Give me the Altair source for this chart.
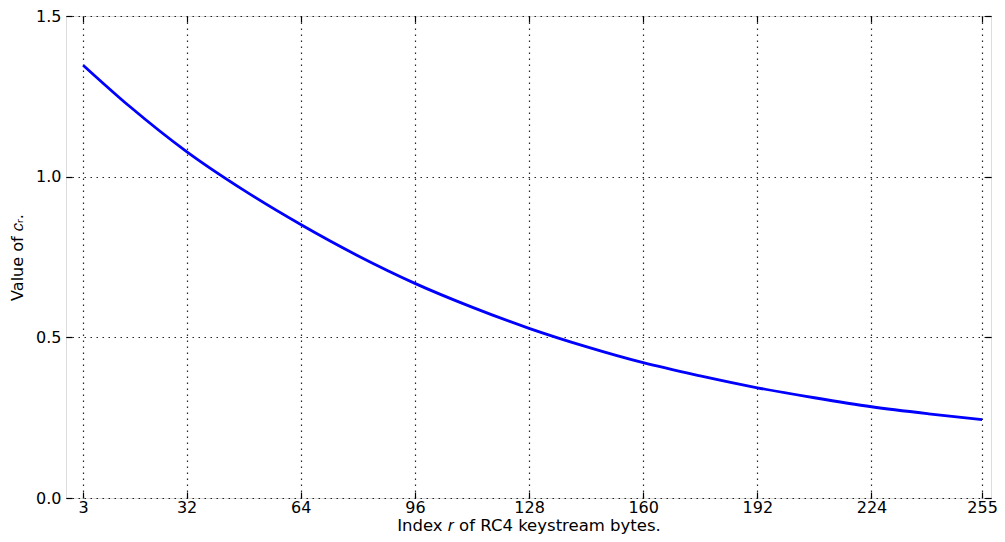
import altair as alt
import pandas as pd

r_vals = [3, 16, 32, 48, 64, 80, 96, 112, 128, 144, 160, 176, 192, 208, 224, 240, 255]
c_vals = [1.347, 1.219, 1.078, 0.958, 0.851, 0.754, 0.668, 0.594, 0.528, 0.471,
          0.421, 0.380, 0.343, 0.312, 0.284, 0.262, 0.244]
x_ticks = [3, 32, 64, 96, 128, 160, 192, 224, 255]
y_ticks = [0.0, 0.5, 1.0, 1.5]

df = pd.DataFrame({"r": r_vals, "c": c_vals})

FONT = "DejaVu Sans"
xs = alt.Scale(domain=[-1.8, 257.5], nice=False, zero=False)
ys = alt.Scale(domain=[0, 1.5], nice=False)

base = alt.Chart(df)

main = base.mark_line(color="#0000ff", strokeWidth=2.8, interpolate="monotone").encode(
    x=alt.X("r:Q", scale=xs, title="Index 𝑟 of RC4 keystream bytes.",
            axis=alt.Axis(values=x_ticks, orient="bottom", domain=False, ticks=False,
                          labelPadding=1, grid=True, gridColor="#000000", gridDash=[1.5, 4.5],
                          gridWidth=1.2, gridOpacity=0.85, labelFontSize=16, labelFont=FONT,
                          labelColor="#000000", titleFont=FONT, titleFontSize=16.5,
                          titleFontWeight="normal", titleColor="#000000", titlePadding=2,
                          labelFlush=False)),
    y=alt.Y("c:Q", scale=ys, title="Value of 𝑐ᵣ.",
            axis=alt.Axis(values=y_ticks, orient="left", domain=False, ticks=False,
                          format=".1f", labelPadding=5, grid=True, gridColor="#000000",
                          gridDash=[1.5, 4.5], gridWidth=1.2, gridOpacity=0.85,
                          labelFontSize=16, labelFont=FONT, labelColor="#000000",
                          titleFont=FONT, titleFontSize=16, titleFontWeight="normal",
                          titleColor="#000000", titlePadding=10, labelFlush=False)),
)

tick_axis = dict(labels=False, domain=False, ticks=True, tickSize=6, tickWidth=1.2,
                 tickColor="#000000", grid=False, title=None, offset=-6)

inner1 = base.mark_line(opacity=0).encode(
    x=alt.X("r:Q", scale=xs, axis=alt.Axis(values=x_ticks, orient="bottom", **tick_axis)),
    y=alt.Y("c:Q", scale=ys, axis=alt.Axis(values=y_ticks, orient="left", **tick_axis)),
)
inner2 = base.mark_line(opacity=0).encode(
    x=alt.X("r:Q", scale=xs, axis=alt.Axis(values=x_ticks, orient="top", **tick_axis)),
    y=alt.Y("c:Q", scale=ys, axis=alt.Axis(values=y_ticks, orient="right", **tick_axis)),
)

chart = alt.layer(main, inner1, inner2).resolve_axis(x="independent", y="independent").properties(
    width=925, height=482,
    autosize=alt.AutoSizeParams(type="none"),
    padding={"left": 58, "top": 8, "right": 6, "bottom": 36},
).configure_view(stroke="#000000", strokeWidth=1.6).configure(background="#ffffff")

chart.save("out.html", embed_options={"renderer": "svg", "actions": False})
